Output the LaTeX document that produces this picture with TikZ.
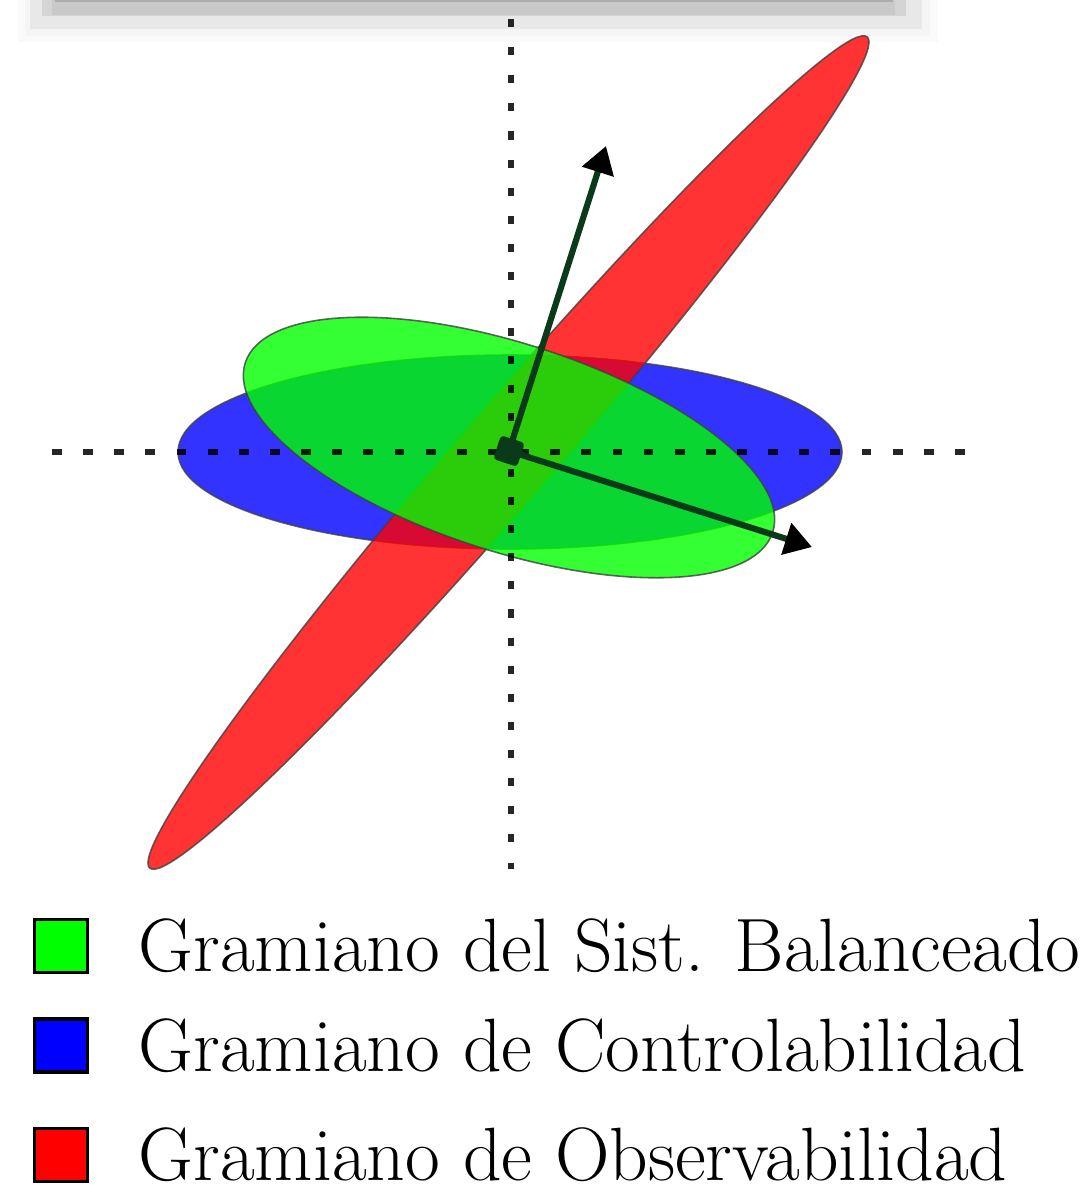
\documentclass[tikz,border=0pt]{standalone}
\usetikzlibrary{arrows.meta,positioning}
\definecolor{pine}{RGB}{10,58,26}
\definecolor{gctrl}{RGB}{0,0,255}
\definecolor{gobs}{RGB}{255,0,0}
\definecolor{gbal}{RGB}{0,255,0}
\tikzset{
  >={Triangle[length=2.7mm,width=3.2mm,color=black]},
  gram/.style={fill=#1,fill opacity=0.8,draw=black!75,draw opacity=0.8,line width=0.45pt},
  guide/.style={draw=black,opacity=0.85,line width=1.5pt,dash pattern=#1},
  guide/.default={on 2.8pt off 6.06pt},
  axis/.style={->,draw=pine,line width=1.75pt},
  pivot/.style={fill=pine,rounded corners=1pt,minimum size=2.5mm,inner sep=0pt,rotate=-18},
  swatch/.style={draw=black,fill=#1,line width=0.95pt,minimum size=5.27mm,inner sep=0pt},
  legtext/.style={anchor=base west,inner sep=0pt,font=\fontsize{21.5}{26}\selectfont},
}

\begin{document}
\begin{tikzpicture}
  \useasboundingbox (0,-11.97) rectangle (10.8,0);
  % shadow band at the top
  \fill[black!2] (0.18,0) rectangle (9.38,-0.42);
  \fill[black!4] (0.25,0) rectangle (9.3,-0.36);
  \fill[black!9] (0.3,0) rectangle (9.22,-0.29);
  \fill[black!17] (0.42,0) rectangle (9.06,-0.16);
  \fill[black!21] (0.52,0) rectangle (8.95,-0.15);
  \fill[black!32] (0.55,0) rectangle (8.93,-0.02);
  % gramians
  \coordinate (o) at (5.09,-4.51);
  \draw[gram=gctrl] (5.10,-4.52) ellipse (3.32 and 0.97);
  \draw[gram=gobs,shift={(5.085,-4.525)},rotate=49.2] (0,0) ellipse (5.49 and 0.47);
  \draw[gram=gbal,shift={(5.09,-4.475)},rotate=-17.8] (0,0) ellipse (2.77 and 1.04);
  % axes
  \coordinate (h0) at (0.52,-4.52); \coordinate (h1) at (9.65,-4.52);
  \coordinate (v0) at (5.11,-0.19); \coordinate (v1) at (5.11,-8.69);
  \draw[guide] (h0) -- (h1);
  \draw[guide={on 2.3pt off 5.7pt}] (v0) -- (v1);
  % principal directions
  \coordinate (u1) at (6.06,-1.46);
  \coordinate (u2) at (8.12,-5.47);
  \draw[axis] (o) -- (u1);
  \draw[axis] (o) -- (u2);
  \node[pivot] (sq) at (o) {};
  % legend
  \foreach \c/\t/\y [count=\i] in {gbal/Gramiano del Sist. Balanceado/-9.46,
      gctrl/Gramiano de Controlabilidad/-10.455,gobs/Gramiano de Observabilidad/-11.55}{
    \node[swatch=\c] (k\i) at (0.61,\y) {};
    \node[legtext] (l\i) at (1.38,\y-0.255) {\t};
  }
\end{tikzpicture}
\end{document}
